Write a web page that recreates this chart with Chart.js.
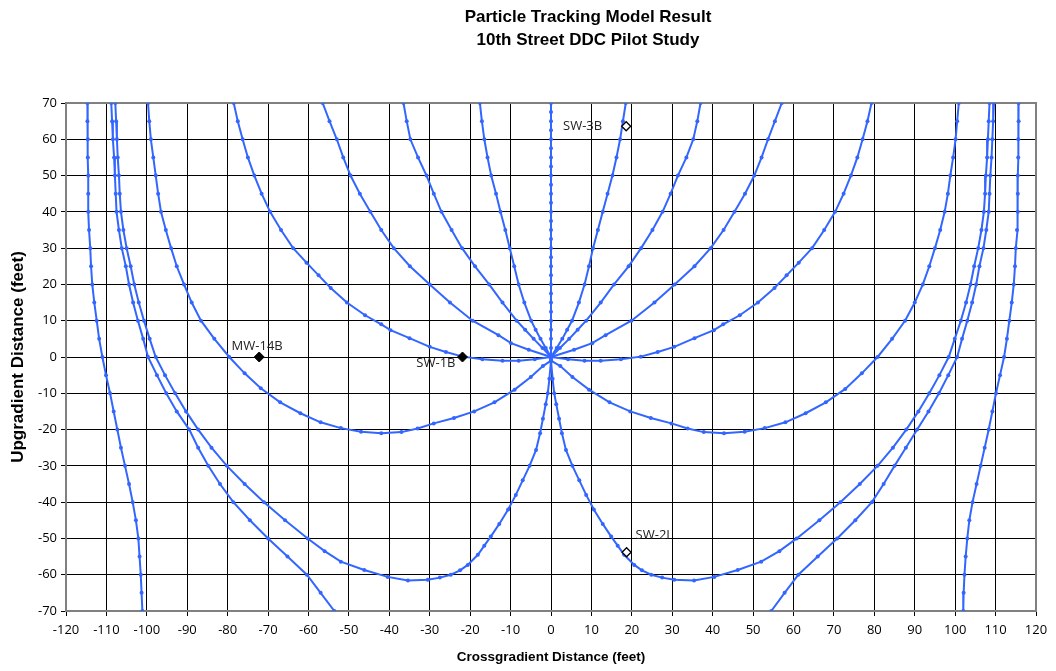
<!DOCTYPE html>
<html><head><meta charset="utf-8">
<script src="https://cdn.jsdelivr.net/npm/chart.js@4/dist/chart.umd.min.js"></script>
<style>html,body{margin:0;padding:0;background:#fff}#wrap{width:1056px;height:671px;position:relative}</style>
</head><body><div id="wrap"><canvas id="c" width="1056" height="671"></canvas></div>
<script>
// ---- Data ----
const titleLines = ['Particle Tracking Model Result', '10th Street DDC Pilot Study'];
const xAxisTitle = 'Crossgradient Distance (feet)';
const yAxisTitle = 'Upgradient Distance (feet)';
const xTickValues = [-120,-110,-100,-90,-80,-70,-60,-50,-40,-30,-20,-10,0,10,20,30,40,50,60,70,80,90,100,110,120];
const yTickValues = [-70,-60,-50,-40,-30,-20,-10,0,10,20,30,40,50,60,70];

const pathC0 = [[0,0],[0,2.5],[0,5],[0,7.5],[0,10],[0,12.5],[0,15],[0,17.5],[0,20],[0,22.5],[0,25],[0,27.5],[0,30],[0,32.5],[0,35],[0,37.5],[0,40],[0,42.5],[0,45],[0,47.5],[0,50],[0,52.5],[0,55],[0,57.5],[0,60],[0,62.5],[0,65],[0,67.5],[0,70]];

const pathL1 = [[0,0],[-1.3,2.5],[-2.6,5],[-3.8,7.5],[-4.9,10],[-6.6,15],[-8,20],[-9.1,25],[-10.2,30],[-11.3,35],[-12.5,40],[-13.6,45],[-14.8,50],[-15.7,55],[-16.5,60],[-17.1,65],[-17.6,70]];
const pathL2 = [[0,0],[-2.1,2.5],[-4.3,5],[-6.4,7.5],[-8.5,10],[-12,15],[-15.3,20],[-18.8,25],[-22,30],[-24.6,35],[-27.1,40],[-29,45],[-30.8,50],[-32.9,55],[-34.8,60],[-35.7,65],[-36.5,70]];
const pathL3 = [[0,0],[-5.5,2],[-9.9,3.8],[-13,6],[-19.4,10],[-25,15],[-30,20],[-34.9,25],[-38.9,30],[-42,35],[-44.7,40],[-47.3,45],[-49.6,50],[-51.4,55],[-53,60],[-54.8,65],[-56.5,70]];
const pathL4 = [[0,0],[-4,-0.6],[-8,-1],[-12,-1],[-17,-0.6],[-21.8,0.1],[-26,1.4],[-30,2.8],[-35,5.2],[-39.7,7.4],[-42,9],[-46,11.5],[-50.5,15],[-54.5,19],[-57.5,22.5],[-60.5,26],[-63.8,30],[-66.8,35],[-69.5,40],[-71.6,45],[-73.4,50],[-75,55],[-76.3,60],[-77.5,65],[-78.5,70]];
const pathL5 = [[0,-1],[-2,-2.5],[-5,-5.5],[-9,-9],[-14,-12.5],[-19,-15],[-24,-16.8],[-29,-18.3],[-33,-19.7],[-37,-20.7],[-42,-21],[-47,-20.6],[-52,-19.6],[-57,-18],[-62,-15.5],[-67,-12.5],[-71.8,-8.6],[-75.8,-4.5],[-79.6,0],[-83.3,5],[-86.6,10],[-88.9,15],[-90.8,20],[-92.6,25],[-94,30],[-95.3,35],[-96.5,40],[-97.2,45],[-97.8,50],[-98.4,55],[-99,60],[-99.4,65],[-99.7,70]];
const pathL6 = [[-108.8,70],[-108.6,65],[-108.4,60],[-108.1,55],[-107.9,50],[-107.7,45],[-107.5,40],[-106.9,35],[-106.2,30],[-105.2,25],[-104.4,20],[-103.4,15],[-102.2,10],[-100.9,5],[-99.7,0],[-97.5,-5],[-95.2,-10],[-92.6,-15],[-89.5,-20],[-87.3,-25],[-84.8,-30],[-81.9,-35],[-78.6,-40],[-74.5,-45],[-70,-50],[-65.2,-55],[-60.4,-60],[-57,-65],[-53.6,-70]];
const pathL7 = [[-107.8,70],[-107.6,65],[-107.4,60],[-107.2,55],[-106.9,50],[-106.7,45],[-106.4,40],[-105.8,35],[-105,30],[-104,25],[-103.1,20],[-102,15],[-100.7,10],[-99.3,5],[-97.8,0],[-95.5,-5],[-93,-10],[-90.3,-15],[-87.3,-20],[-84,-25],[-80.2,-30],[-75.8,-35],[-71,-40],[-65.8,-45],[-60.2,-50],[-56,-53.5],[-52,-56.4],[-46.2,-58.7],[-40.4,-60.6],[-35.4,-61.6],[-30.5,-61.4],[-27.5,-60.8],[-24.8,-60],[-22.5,-58.8],[-20.6,-57.3],[-18.1,-54.5],[-16.5,-52],[-14.9,-49.5],[-12.8,-46],[-10.6,-42],[-8.7,-38],[-7,-34],[-5.3,-30],[-3.7,-25.6],[-2.7,-21],[-2,-17],[-1.3,-13],[-0.8,-10],[-0.4,-6],[0,-1]];
const pathL8 = [[-114.7,70],[-114.7,65],[-114.6,60],[-114.6,55],[-114.5,50],[-114.5,45],[-114.5,40],[-114.3,35],[-114,30],[-113.8,25],[-113.5,20],[-113,15],[-112.4,10],[-111.8,5],[-111,0],[-110.1,-5],[-109.1,-10],[-108.2,-15],[-107.3,-20],[-106.4,-25],[-105.4,-30],[-104.4,-35],[-103.5,-40],[-102.7,-45],[-102.1,-50],[-101.8,-55],[-101.5,-60],[-101.3,-65],[-101.1,-70]];

const pathR1 = [[0,0],[1.4,2.5],[2.8,5],[4,7.5],[5.2,10],[6.9,15],[8.3,20],[9.4,25],[10.4,30],[11.6,35],[12.8,40],[14,45],[15.2,50],[16.2,55],[17.1,60],[17.8,65],[18.5,70]];
const pathR2 = [[0,0],[2.2,2.5],[4.5,5],[6.6,7.5],[8.7,10],[12.3,15],[15.6,20],[19.2,25],[22.3,30],[25.1,35],[27.6,40],[29.6,45],[31.4,50],[33.5,55],[35.2,60],[36.2,65],[37,70]];
const pathR3 = [[0,0],[5.7,2],[10.2,3.8],[13.5,6],[19.9,10],[25.6,15],[30.6,20],[35.5,25],[39.5,30],[42.7,35],[45.4,40],[48,45],[50.3,50],[52.1,55],[53.7,60],[55.4,65],[57.1,70]];
const pathR4 = [[0,0],[4.2,-0.6],[8.3,-1],[12.3,-1],[17.3,-0.6],[22.2,0.1],[26.4,1.4],[30.5,2.8],[35.5,5.2],[40.3,7.4],[42.6,9],[46.7,11.5],[51.2,15],[55.3,19],[58.3,22.5],[61.3,26],[64.6,30],[67.6,35],[70.3,40],[72.4,45],[74.2,50],[75.8,55],[77.1,60],[78.3,65],[79.3,70]];
const pathR5 = [[0,-1],[2.3,-2.5],[5.3,-5.5],[9.4,-9],[14.5,-12.5],[19.6,-15],[24.7,-16.8],[29.8,-18.3],[33.8,-19.7],[37.8,-20.7],[42.8,-21],[47.9,-20.6],[52.9,-19.6],[58,-18],[63,-15.5],[68,-12.5],[72.8,-8.8],[76.9,-4.5],[80.8,0],[84.4,5],[87.6,10],[90,15],[92,20],[93.6,25],[95,30],[96.3,35],[97.4,40],[98.2,45],[98.8,50],[99.5,55],[100.1,60],[100.5,65],[100.9,70]];
const pathR6 = [[109.6,70],[109.4,65],[109.2,60],[109,55],[108.7,50],[108.5,45],[108.3,40],[107.7,35],[107,30],[106,25],[105.2,20],[104.2,15],[103,10],[101.7,5],[100.5,0],[98.3,-5],[96,-10],[93.4,-15],[90.6,-20],[87.8,-25],[85,-30],[82.3,-35],[79.4,-40],[75.3,-45],[70.8,-50],[66,-55],[61.2,-60],[57.8,-65],[54.5,-70]];
const pathR7 = [[108.5,70],[108.3,65],[108.1,60],[107.9,55],[107.6,50],[107.4,45],[107.1,40],[106.5,35],[105.7,30],[104.7,25],[103.8,20],[102.7,15],[101.4,10],[99.9,5],[98.4,0],[96.1,-5],[93.6,-10],[90.9,-15],[87.9,-20],[84.6,-25],[80.8,-30],[76.4,-35],[71.6,-40],[66.4,-45],[60.8,-50],[56.5,-53.5],[52,-56.4],[46.2,-58.7],[40.4,-60.6],[35.4,-61.6],[30.5,-61.4],[27.5,-60.8],[24.8,-60],[22.5,-58.8],[20.6,-57.3],[18.1,-54.5],[16.5,-52],[14.9,-49.5],[12.8,-46],[10.6,-42],[8.7,-38],[7,-34],[5.3,-30],[3.7,-25.6],[2.7,-21],[2,-17],[1.3,-13],[0.8,-10],[0.4,-6],[0,-1]];
const pathR8 = [[115.7,70],[115.7,65],[115.6,60],[115.6,55],[115.5,50],[115.5,45],[115.5,40],[115.3,35],[115,30],[114.8,25],[114.5,20],[114,15],[113.4,10],[112.8,5],[112.1,0],[111.1,-5],[110.1,-10],[109.2,-15],[108.3,-20],[107.3,-25],[106.3,-30],[105.3,-35],[104.3,-40],[103.5,-45],[103,-50],[102.6,-55],[102.3,-60],[102.1,-65],[102,-70]];

const wellNames = ['MW-14B','SW-1B','SW-3B','SW-2I'];
const wellX = [-72.2,-21.9,18.6,18.7];
const wellY = [0,0,63.6,-53.8];
const wellFilled = [true,true,false,false];

// ---- Build ----
const paths = [pathC0,pathL1,pathL2,pathL3,pathL4,pathL5,pathL6,pathL7,pathL8,pathR1,pathR2,pathR3,pathR4,pathR5,pathR6,pathR7,pathR8];
const BLUE = '#3366FF';
const FONT = '"Open Sans", "DejaVu Sans", sans-serif';
const datasets = [];
wellNames.forEach((n,i)=>{
  datasets.push({
    label:n, data:[{x:wellX[i],y:wellY[i]}], showLine:false,
    pointStyle:'rectRot', pointRadius: wellFilled[i]?5:4.5,
    backgroundColor: wellFilled[i]?'#000':'#fff', borderColor:'#000', borderWidth: wellFilled[i]?1:1.3,
    pointHoverRadius:5
  });
});
paths.forEach((p,i)=>{
  datasets.push({
    label:'path'+i, data:p.map(([x,y])=>({x,y})), showLine:true, tension:0,
    borderColor:BLUE, backgroundColor:BLUE, borderWidth:2,
    pointRadius:2, pointBorderWidth:0, pointHoverRadius:2
  });
});

const labelOffsets = [[-2,-11,'center'],[-7,6,'right'],[-24,0,'right'],[9,-17,'left']];

const decorPlugin = {
  id:'decor',
  beforeDatasetsDraw(chart){
    const {ctx, chartArea:a} = chart;
    ctx.save();
    ctx.strokeStyle = '#808080'; ctx.lineWidth = 2;
    ctx.strokeRect(a.left, a.top, a.right-a.left, a.bottom-a.top);
    ctx.restore();
  },
  afterDraw(chart){
    const {ctx, chartArea:a, scales} = chart;
    ctx.save();
    ctx.fillStyle = '#000';
    ctx.textAlign = 'center'; ctx.textBaseline = 'middle';
    ctx.font = 'bold 17px "Liberation Sans", Arial, sans-serif';
    ctx.fillText(titleLines[0], 588, 17);
    ctx.fillText(titleLines[1], 588, 40);
    ctx.font = 'bold 13.5px "Liberation Sans", Arial, sans-serif';
    ctx.fillText(xAxisTitle, (a.left+a.right)/2, 657);
    ctx.save();
    ctx.translate(18, (a.top+a.bottom)/2);
    ctx.rotate(-Math.PI/2);
    ctx.font = 'bold 17px "Liberation Sans", Arial, sans-serif';
    ctx.fillText(yAxisTitle, 0, 0);
    ctx.restore();
    ctx.font = '13px ' + FONT;
    ctx.fillStyle = '#222';
    wellNames.forEach((n,i)=>{
      const px = scales.x.getPixelForValue(wellX[i]);
      const py = scales.y.getPixelForValue(wellY[i]);
      const [dx,dy,al] = labelOffsets[i];
      ctx.textAlign = al;
      ctx.fillText(n, px+dx, py+dy);
    });
    ctx.restore();
  }
};

new Chart(document.getElementById('c'), {
  type:'scatter',
  data:{datasets},
  options:{
    responsive:false, animation:false, devicePixelRatio:1,
    layout:{padding:{top:103,right:20,left:0,bottom:0}},
    plugins:{legend:{display:false}, title:{display:false}, tooltip:{enabled:false}},
    scales:{
      x:{
        type:'linear', min:-120, max:120,
        afterBuildTicks:s=>{s.ticks = xTickValues.map(v=>({value:v}));},
        afterFit:s=>{s.height = 60;},
        ticks:{font:{family:FONT,size:13}, color:'#000', padding:6, maxRotation:0, autoSkip:false},
        grid:{color:'#000', lineWidth:1, tickLength:5, tickColor:'#000'},
        border:{color:'#808080', width:2}
      },
      y:{
        type:'linear', min:-70, max:70,
        afterBuildTicks:s=>{s.ticks = yTickValues.map(v=>({value:v}));},
        afterFit:s=>{s.width = 66;},
        ticks:{font:{family:FONT,size:13}, color:'#000', padding:4, autoSkip:false},
        grid:{color:'#000', lineWidth:1, tickLength:5, tickColor:'#000'},
        border:{color:'#808080', width:2}
      }
    }
  },
  plugins:[decorPlugin]
});
</script></body></html>
